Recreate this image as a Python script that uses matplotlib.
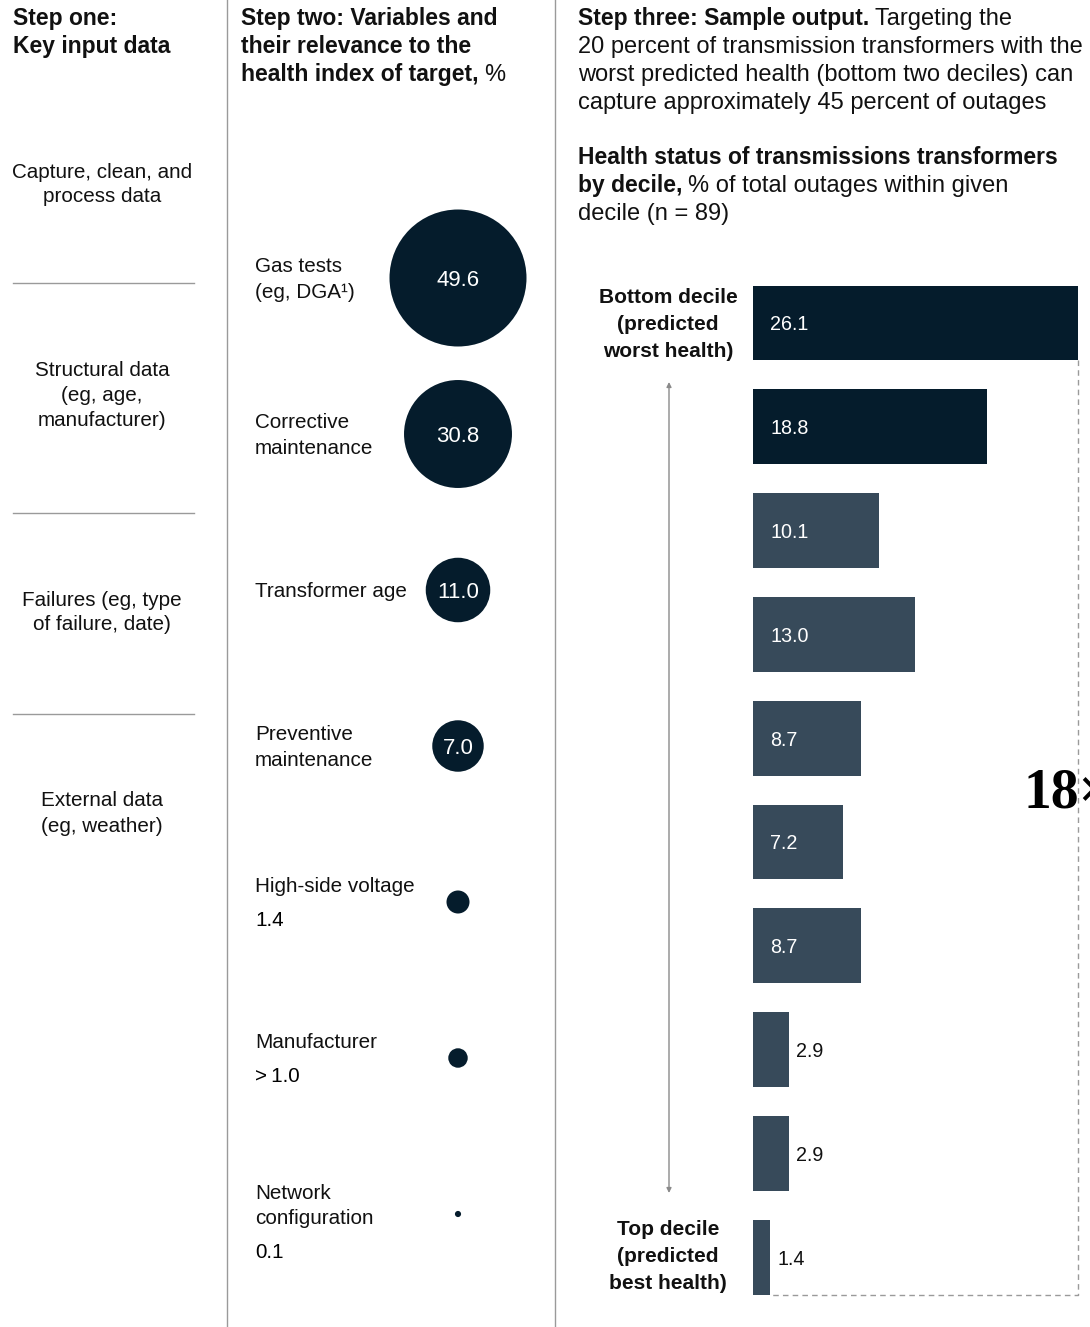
import matplotlib
matplotlib.use("Agg")
import matplotlib.pyplot as plt
import numpy as np

plt.rcParams['font.family'] = ['Liberation Sans', 'DejaVu Sans']

# ---- data -------------------------------------------------------------
input_groups = ["Capture, clean, and\nprocess data",
                "Structural data\n(eg, age,\nmanufacturer)",
                "Failures (eg, type\nof failure, date)",
                "External data\n(eg, weather)"]

variables = ["Gas tests\n(eg, DGA\u00b9)", "Corrective\nmaintenance", "Transformer age",
             "Preventive\nmaintenance", "High-side voltage", "Manufacturer",
             "Network\nconfiguration"]
relevance = [49.6, 30.8, 11.0, 7.0, 1.4, 1.0, 0.1]
relevance_labels = ["49.6", "30.8", "11.0", "7.0", "1.4", ">\u20091.0", "0.1"]

decile_outages = [26.1, 18.8, 10.1, 13.0, 8.7, 7.2, 8.7, 2.9, 2.9, 1.4]
decile_labels = ["26.1", "18.8", "10.1", "13.0", "8.7", "7.2", "8.7", "2.9", "2.9", "1.4"]
ratio_label = "18\u00d7"

# ---- styling ----------------------------------------------------------
NAVY = "#051C2C"
SLATE = "#374A5A"
TXT = "#111111"
GRID = "#9a9a9a"
W, H = 1090, 1327

fig = plt.figure(figsize=(W / 100, H / 100), dpi=100)
fig.patch.set_facecolor("white")

# full-figure canvas in pixel units for text and rules
bg = fig.add_axes([0, 0, 1, 1])
bg.set_xlim(0, W)
bg.set_ylim(H, 0)
bg.axis("off")

HSB = 16.5   # header size, bold
HSR = 17.0   # header size, regular
BS = 14.85   # body size
BSB = 15.0   # body size, bold
VS = 14.2    # bar value size


def lines(x, y0, dy, text_lines, **kw):
    for i, t in enumerate(text_lines):
        bg.text(x, y0 + i * dy, t, va="baseline", **kw)


# column dividers
for xv in (227, 555):
    bg.plot([xv, xv], [0, H], color=GRID, lw=1.0)

# ---- step one ---------------------------------------------------------
lines(13, 25, 28, ["Step one:", "Key input data"], fontsize=HSB, weight="bold", color=TXT)
group_centers = [183, 394, 611, 812]
for txt, yc in zip(input_groups, group_centers):
    parts = txt.split("\n")
    y0 = yc - (len(parts) - 1) * 25 / 2 + 7
    lines(102, y0, 25, parts, fontsize=BS, color=TXT, ha="center")
for ys in (283, 513, 714):
    bg.plot([13, 194], [ys, ys], color=GRID, lw=1.0)

# ---- step two ---------------------------------------------------------
lines(241, 25, 28, ["Step two: Variables and", "their relevance to the"],
      fontsize=HSB, weight="bold", color=TXT)
t2 = bg.text(241, 81, "health index of target,", fontsize=HSB, weight="bold",
             color=TXT, va="baseline")
bg.annotate("%", xy=(1, 81), xycoords=(t2, "data"), xytext=(4, 0),
            textcoords="offset points", fontsize=HSR, color=TXT, va="baseline")

# bubble chart
row_top, row_step = 278, 156
n_var = len(variables)
bub = fig.add_axes([378 / W, 1 - (row_top + row_step * (n_var - 0.5)) / H,
                    160 / W, row_step * n_var / H])
bub.set_xlim(-1, 1)
bub.set_ylim(n_var - 0.5, -0.5)
bub.axis("off")
r_max_px = 68.5
s_max = (2 * r_max_px * 72 / 100) ** 2
sizes = [v / max(relevance) * s_max for v in relevance]
ypos = np.arange(n_var)
bub.scatter(np.zeros(n_var), ypos, s=sizes, color=NAVY, edgecolors="none")

for i, (name, v, lab) in enumerate(zip(variables, relevance, relevance_labels)):
    yc = row_top + row_step * i
    parts = name.split("\n")
    if v >= 5:
        # value sits inside its bubble, name centred on the row
        bub.text(0, i, lab, color="white", fontsize=16, ha="center", va="center_baseline")
        y0 = yc - (len(parts) - 1) * 25 / 2 + 7
        lines(255, y0, 25, parts, fontsize=BS, color=TXT)
    else:
        # small bubble: value printed below the name
        y0 = yc - 17 - (len(parts) - 1) * 5 + 7
        lines(255, y0, 25, parts, fontsize=BS, color=TXT)
        bg.text(255, y0 + (len(parts) - 1) * 25 + 34, lab, fontsize=BS,
                color="black", va="baseline")

# ---- step three -------------------------------------------------------
t3 = bg.text(578, 25, "Step three: Sample output.", fontsize=HSB, weight="bold",
             color=TXT, va="baseline")
bg.annotate("Targeting the", xy=(1, 25), xycoords=(t3, "data"), xytext=(4, 0),
            textcoords="offset points", fontsize=HSR, color=TXT, va="baseline")
lines(578, 53, 28, ["20 percent of transmission transformers with the",
                    "worst predicted health (bottom two deciles) can",
                    "capture approximately 45 percent of outages"],
      fontsize=HSR, color=TXT)
bg.text(578, 164, "Health status of transmissions transformers", fontsize=HSB,
        weight="bold", color=TXT, va="baseline")
t4 = bg.text(578, 192, "by decile,", fontsize=HSB, weight="bold", color=TXT,
             va="baseline")
bg.annotate("% of total outages within given", xy=(1, 192), xycoords=(t4, "data"),
            xytext=(4, 0), textcoords="offset points", fontsize=HSR, color=TXT,
            va="baseline")
bg.text(578, 220, "decile (n = 89)", fontsize=HSR, color=TXT, va="baseline")

# bar chart
bar_top, bar_step = 323, 103.8
n_dec = len(decile_outages)
x0_px, x1_px = 753, 1078
bax = fig.add_axes([x0_px / W, 1 - (bar_top + bar_step * (n_dec - 0.5)) / H,
                    (x1_px - x0_px) / W, bar_step * n_dec / H])
bax.set_xlim(0, max(decile_outages))
bax.set_ylim(n_dec - 0.5, -0.5)
bax.axis("off")
bh = 0.72
colors = [NAVY, NAVY] + [SLATE] * (n_dec - 2)
ypos = np.arange(n_dec)
bax.barh(ypos, decile_outages, height=bh, color=colors, edgecolor="none")
for i, (v, lab) in enumerate(zip(decile_outages, decile_labels)):
    if v >= 5:
        bax.annotate(lab, xy=(0, i), xytext=(12.5, 0), textcoords="offset points",
                     color="white", fontsize=VS, va="center_baseline", ha="left")
    else:
        bax.annotate(lab, xy=(v, i), xytext=(5, 0), textcoords="offset points",
                     color=TXT, fontsize=VS, va="center_baseline", ha="left")

# dashed bracket between worst and best deciles
vmax = max(decile_outages)
bax.plot([vmax, vmax, decile_outages[-1]],
         [0 + bh / 2, n_dec - 1 + bh / 2, n_dec - 1 + bh / 2],
         color=GRID, lw=1.0, ls=(0, (4, 3)), clip_on=False, zorder=0)
bg.text(1024, 808, ratio_label, fontsize=40, weight="bold", color="black",
        family=["Liberation Serif", "DejaVu Serif"], va="baseline", ha="left")

# decile end labels and arrow
lines(668, 303, 27, ["Bottom decile", "(predicted", "worst health)"],
      fontsize=BSB, weight="bold", color=TXT, ha="center")
lines(668, 1235, 27, ["Top decile", "(predicted", "best health)"],
      fontsize=BSB, weight="bold", color=TXT, ha="center")
bg.annotate("", xy=(669, 382), xytext=(669, 1193),
            arrowprops=dict(arrowstyle="<|-|>", color="#8a8a8a", lw=1.0,
                            mutation_scale=7, shrinkA=0, shrinkB=0))

fig.savefig("out.png", dpi=100, facecolor="white")
